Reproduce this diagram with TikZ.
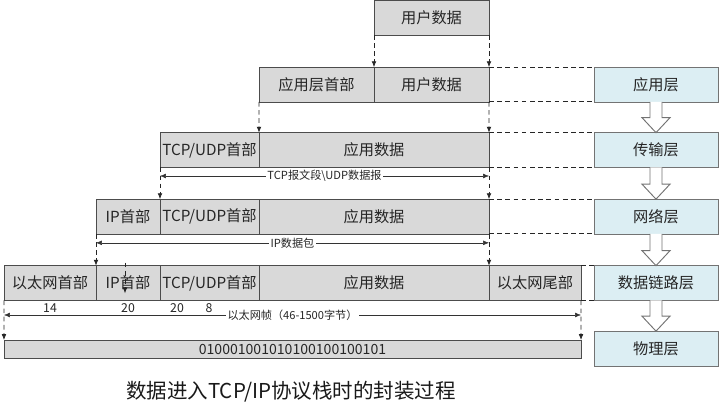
\documentclass[tikz,border=0pt]{standalone}
\usepackage{fontspec}
\setmainfont{Noto Sans CJK SC}
\usepackage{xcolor}
\usetikzlibrary{calc, arrows.meta}
\definecolor{segGray}{RGB}{217,217,217}
\definecolor{layerBlue}{RGB}{220,238,243}

\begin{document}
\begin{tikzpicture}[x=0.03cm, y=-0.03cm, >={Latex[length=5pt,width=4pt]},
    seg/.style={draw=black!70, fill=segGray, inner sep=0pt, outer sep=0pt,
        minimum height=1.04cm, text=black!85, font=\fontsize{13}{15}\selectfont},
    layer/.style={draw=black!55, fill=layerBlue, inner sep=0pt, outer sep=0pt,
        minimum width=3.72cm, minimum height=1.04cm, text=black!85,
        font=\fontsize{13}{15}\selectfont},
    link/.style={black!85, line width=0.6pt, dash pattern=on 4pt off 3pt},
    span/.style={<->, black!80},
    spanlbl/.style={fill=white, inner sep=1pt, text=black!85, font=\fontsize{9.5}{10}\selectfont},
    numlbl/.style={inner sep=0pt, text=black!85, font=\fontsize{10.5}{11}\selectfont},
    blockarr/.style={draw=black!55, fill=white, line width=0.8pt}]
    \useasboundingbox (0,0) rectangle (720,413);

    % 用户数据
    \node[seg, minimum width=3.45cm] (u1) at (431.5,17.5) {用户数据};

    % 应用层
    \node[seg, minimum width=3.45cm] (ah2) at (316.5,84.5) {应用层首部};
    \node[seg, minimum width=3.45cm] (u2) at (431.5,84.5) {用户数据};

    % 传输层
    \node[seg, minimum width=2.97cm] (tcp3) at (209.5,150) {TCP/UDP首部};
    \node[seg, minimum width=6.9cm] (ad3) at (374,150) {应用数据};

    % 网络层
    \node[seg, minimum width=1.92cm] (ip4) at (128,216.5) {IP首部};
    \node[seg, minimum width=2.97cm] (tcp4) at (209.5,216.5) {TCP/UDP首部};
    \node[seg, minimum width=6.9cm] (ad4) at (374,216.5) {应用数据};

    % 数据链路层
    \node[seg, minimum width=2.76cm] (eh5) at (50,283) {以太网首部};
    \node[seg, minimum width=1.92cm] (ip5) at (128,283) {IP首部};
    \node[seg, minimum width=2.97cm] (tcp5) at (209.5,283) {TCP/UDP首部};
    \node[seg, minimum width=6.9cm] (ad5) at (374,283) {应用数据};
    \node[seg, minimum width=2.76cm] (et5) at (535,283) {以太网尾部};

    % 物理层
    \node[seg, minimum width=17.31cm, minimum height=0.54cm,
        font=\fontsize{12}{12}\selectfont] (bits) at (292.5,349) {010001001010100100100101};

    % 各层
    \node[layer] (app) at (656,84.5) {应用层};
    \node[layer] (tr) at (656,150) {传输层};
    \node[layer] (nw) at (656,216.5) {网络层};
    \node[layer] (dl) at (656,283) {数据链路层};
    \node[layer] (ph) at (656,348.5) {物理层};

    % 层间空心箭头
    \foreach \a/\b in {app/tr, tr/nw, nw/dl, dl/ph}
        \draw[blockarr] ($(\a.south)+(-6,0)$) -- ($(\b.north)+(-6,-15)$)
            -- ($(\b.north)+(-14,-15)$) -- (\b.north) -- ($(\b.north)+(14,-15)$)
            -- ($(\b.north)+(6,-15)$) -- ($(\a.south)+(6,0)$);

    % 虚线
    \foreach \s/\l in {u2/app, ad3/tr, ad4/nw, et5/dl} {
        \draw[link] (\s.north east) -- (\l.north west);
        \draw[link] (\s.south east) -- (\l.south west);
    }

    % 封装箭头
    \foreach \a/\b in {u1.south west/u2.north west, u1.south east/u2.north east,
        ah2.south west/tcp3.north east, u2.south east/ad3.north east,
        tcp3.south west/tcp4.north west, ad3.south east/ad4.north east,
        ip4.south west/ip5.north west, ad4.south east/ad5.north east,
        eh5.south west/bits.north west, et5.south east/bits.north east}
        \draw[link, ->] (\a) -- (\b);
    \draw[link, ->] ([shift={(-3,-3)}]ip5.north) -- ([shift={(-3,-7)}]ip5.south);

    % 长度
    \draw[span] ([yshift=-0.26cm]tcp3.south west) -- node[spanlbl] (lseg) {TCP报文段\textbackslash UDP数据报}
        ([yshift=-0.26cm]ad3.south east);
    \draw[span] ([yshift=-0.27cm]ip4.south west) -- node[spanlbl] (lpkt) {IP数据包}
        ([yshift=-0.27cm]ad4.south east);
    \draw[span] ([yshift=-0.44cm]eh5.south west) -- node[spanlbl] (lfrm) {以太网帧（46-1500字节）}
        ([yshift=-0.44cm]et5.south east);

    \node[numlbl] (n14) at (50,308) {14};
    \node[numlbl] (n20a) at (128,308) {20};
    \node[numlbl] (n20b) at (177,308) {20};
    \node[numlbl] (n8) at (209,308) {8};

    % 标题
    \node[text=black!90, font=\fontsize{17.5}{20}\selectfont] (cap) at (291,392)
        {数据进入TCP/IP协议栈时的封装过程};
\end{tikzpicture}
\end{document}
